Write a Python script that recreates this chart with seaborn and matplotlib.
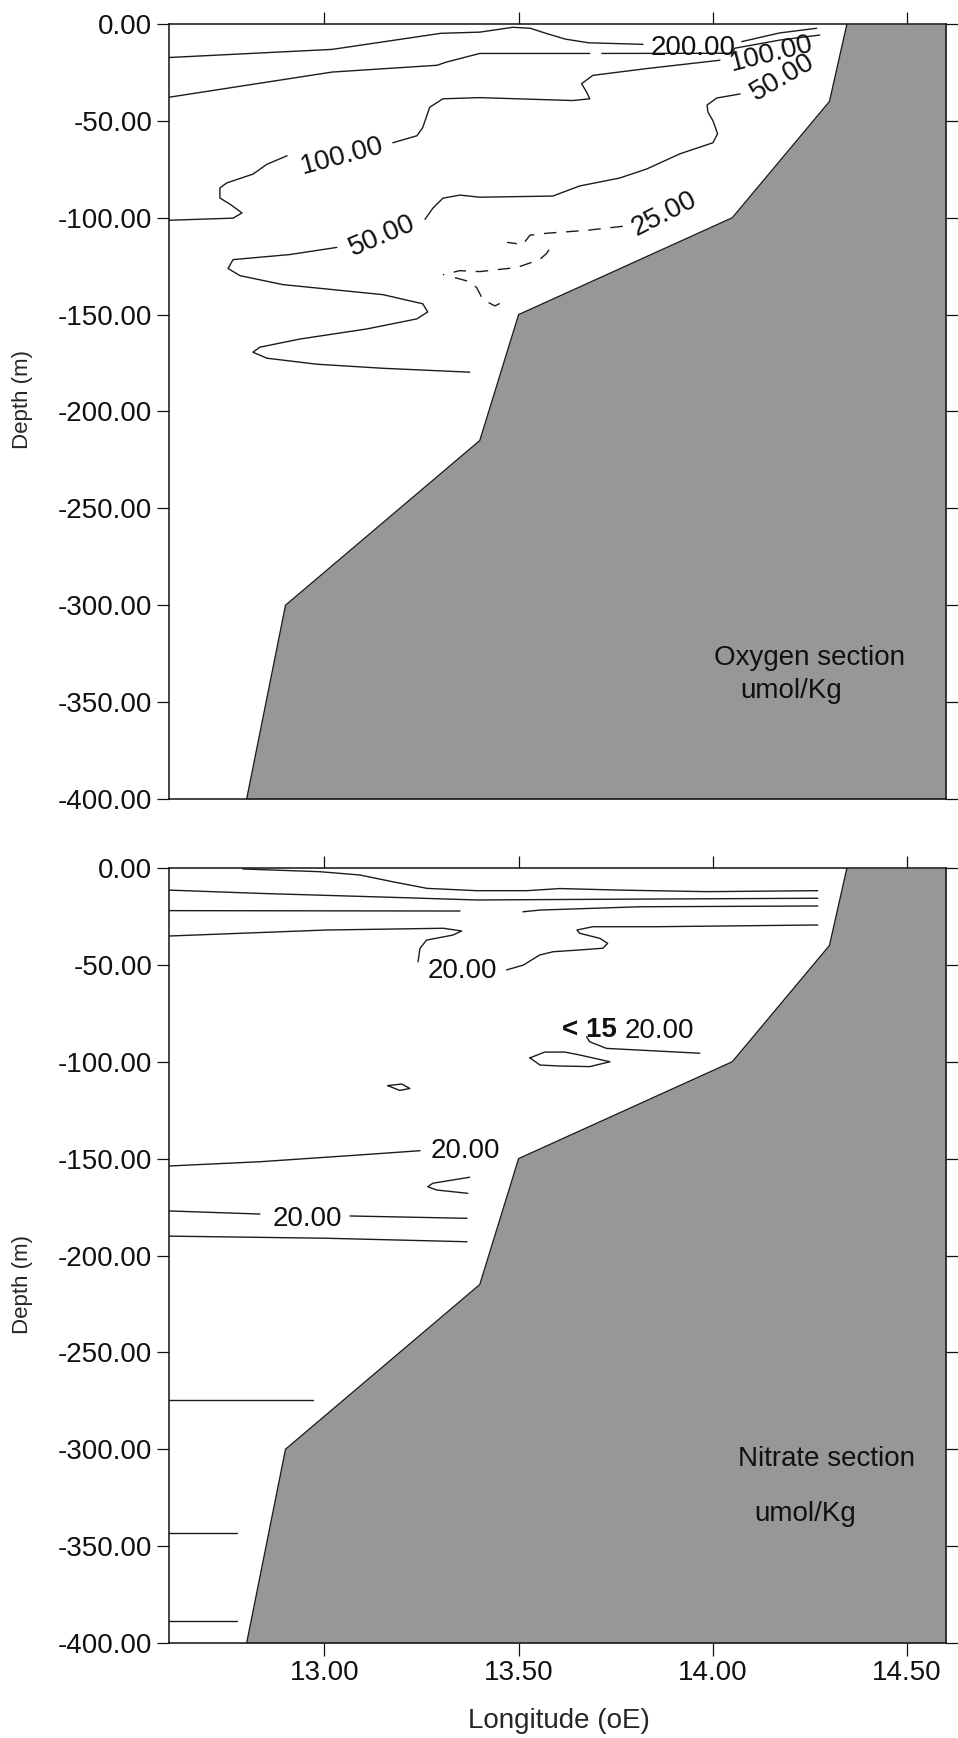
import matplotlib
matplotlib.use("Agg")
import matplotlib.pyplot as plt
import seaborn as sns
import pandas as pd

# ---- axis ranges and ticks ----
LON_MIN, LON_MAX = 12.6, 14.6
DEPTH_MIN, DEPTH_MAX = -400, 0
lon_ticks = [13.0, 13.5, 14.0, 14.5]
depth_ticks = [0, -50, -100, -150, -200, -250, -300, -350, -400]

# ---- shelf / slope bottom profile (same transect for both sections) ----
bathy_lon = [14.345, 14.30, 14.05, 13.50, 13.40, 12.90, 12.80]
bathy_depth = [0, -40, -100, -150, -215, -300, -400]

# ---- Oxygen section contours (umol/kg) ----
ox200_a_lon = [12.60, 13.02, 13.30, 13.40, 13.485, 13.53, 13.57, 13.62, 13.68, 13.82]
ox200_a_dep = [-17.3, -13.1, -4.8, -4.2, -1.7, -2.2, -4.8, -7.8, -9.7, -10.5]
ox200_b_lon = [14.074, 14.172, 14.267]
ox200_b_dep = [-9.1, -4.6, -2.2]

ox150_a_lon = [12.60, 13.02, 13.29, 13.315, 13.40, 13.683]
ox150_a_dep = [-37.8, -24.8, -21.3, -19.6, -15.2, -15.2]
ox150_b_lon = [13.714, 14.051, 14.056, 14.172, 14.275]
ox150_b_dep = [-15.2, -15.1, -12.5, -8.3, -5.7]

ox100_a_lon = [12.60, 12.765, 12.788, 12.757, 12.731, 12.731, 12.749, 12.816, 12.852, 12.904]
ox100_a_dep = [-101.3, -100.2, -97.5, -93.0, -89.8, -84.6, -82.0, -77.5, -72.4, -68.0]
ox100_b_lon = [13.176, 13.238, 13.253, 13.271, 13.305, 13.40, 13.639, 13.683, 13.675,
               13.662, 13.691, 13.83, 14.018]
ox100_b_dep = [-61.3, -57.7, -53.5, -43.0, -38.6, -38.0, -39.5, -38.6, -35.2,
               -30.8, -26.5, -23.0, -18.7]

ox50_a_lon = [14.07, 14.01, 13.985, 13.987, 14.0, 14.012, 14.0, 13.915, 13.83, 13.76,
              13.657, 13.588, 13.40, 13.349, 13.305, 13.279, 13.259]
ox50_a_dep = [-36.1, -38.2, -41.8, -45.4, -49.9, -56.6, -61.3, -67.0, -74.8, -79.5,
              -83.6, -88.8, -89.4, -88.3, -89.9, -95.1, -100.8]
ox50_b_lon = [13.032, 12.911, 12.765, 12.752, 12.783, 12.893, 13.151, 13.253, 13.266,
              13.238, 13.109, 12.937, 12.834, 12.816, 12.852, 12.981, 13.151, 13.374]
ox50_b_dep = [-115.3, -119.0, -121.6, -126.2, -129.9, -134.5, -139.7, -144.4, -148.6,
              -152.2, -157.4, -162.6, -166.8, -169.4, -172.5, -175.6, -177.7, -179.7]

ox25_a_lon = [13.768, 13.675, 13.572, 13.529, 13.511, 13.47]
ox25_a_dep = [-104.4, -106.5, -108.0, -109.0, -113.8, -112.7]
ox25_b_lon = [13.578, 13.572, 13.554, 13.495, 13.444, 13.40, 13.349, 13.305]
ox25_b_dep = [-116.5, -118.4, -121.6, -125.7, -126.8, -127.8, -127.3, -129.4]
ox25_c_lon = [13.336, 13.374, 13.392, 13.408, 13.439, 13.47]
ox25_c_dep = [-130.9, -133.0, -136.1, -142.3, -145.5, -142.3]

# contour labels: (text, lon, depth, rotation)
ox_label_text = ["200.00", "100.00", "50.00", "100.00", "50.00", "25.00"]
ox_label_lon = [13.948, 14.149, 14.175, 13.045, 13.145, 13.871]
ox_label_dep = [-10.6, -14.0, -26.5, -66.5, -108.0, -96.6]
ox_label_rot = [0, 14, 30, 15, 23, 27]

# ---- Nitrate section contours (umol/kg) ----
no3_a_lon = [12.79, 12.988, 13.091, 13.176, 13.264, 13.392, 13.521, 13.606, 13.76, 13.984, 14.27]
no3_a_dep = [-0.5, -1.9, -3.6, -7.1, -10.5, -11.7, -11.7, -10.6, -11.4, -12.2, -11.7]

no3_b_lon = [12.60, 12.834, 13.169, 13.392, 13.657, 14.27]
no3_b_dep = [-11.4, -13.1, -15.1, -16.5, -16.2, -15.6]

no3_c1_lon = [12.60, 13.349]
no3_c1_dep = [-22.0, -22.2]
no3_c2_lon = [13.511, 13.555, 13.812, 14.27]
no3_c2_dep = [-22.6, -21.7, -20.0, -19.6]

no3_d1_lon = [12.60, 13.006, 13.306, 13.353, 13.331, 13.263, 13.246, 13.241]
no3_d1_dep = [-35.1, -32.0, -31.1, -32.5, -34.6, -37.2, -41.5, -48.4]
no3_d2_lon = [13.469, 13.512, 13.554, 13.589, 13.657, 13.717, 13.729, 13.709, 13.657,
              13.65, 13.691, 13.855, 14.27]
no3_d2_dep = [-52.6, -50.1, -44.9, -43.2, -42.3, -41.4, -38.9, -36.3, -33.7,
              -32.0, -30.3, -30.3, -29.4]

no3_hook_lon = [13.675, 13.683, 13.726, 13.966]
no3_hook_dep = [-87.1, -89.7, -93.1, -95.6]

no3_loop_lon = [13.529, 13.567, 13.619, 13.657, 13.735, 13.683, 13.606, 13.555, 13.529]
no3_loop_dep = [-98.0, -95.0, -95.0, -96.5, -100.0, -102.5, -102.2, -101.7, -98.0]

no3_eye_lon = [13.163, 13.199, 13.22, 13.194, 13.163]
no3_eye_dep = [-112.3, -111.5, -113.8, -114.8, -112.3]

no3_e_lon = [12.60, 12.834, 13.091, 13.246]
no3_e_dep = [-153.8, -151.6, -148.1, -145.9]

no3_v_lon = [13.374, 13.279, 13.266, 13.289, 13.369]
no3_v_dep = [-159.6, -162.7, -164.5, -166.2, -167.9]

no3_f1_lon = [12.60, 12.834]
no3_f1_dep = [-177.0, -178.6]
no3_f2_lon = [13.066, 13.367]
no3_f2_dep = [-179.6, -180.8]

no3_g_lon = [12.60, 13.006, 13.367]
no3_g_dep = [-190.0, -191.1, -192.9]

no3_h_lon = [12.60, 12.97]
no3_h_dep = [-274.7, -274.7]
no3_i_lon = [12.60, 12.775]
no3_i_dep = [-343.2, -343.2]
no3_j_lon = [12.60, 12.775]
no3_j_dep = [-388.8, -388.8]

no3_label_text = ["20.00", "20.00", "20.00", "20.00"]
no3_label_lon = [13.356, 13.863, 13.362, 12.955]
no3_label_dep = [-51.4, -82.8, -144.5, -179.6]

# ---- styling ----
sns.set_theme(style="ticks")
plt.rcParams["font.family"] = ["Liberation Sans", "DejaVu Sans"]

LINE = "#1c1c1c"
LAND = "#979797"
FS = 20

fig = plt.figure(figsize=(9.58, 17.38), dpi=100)
ax_ox = fig.add_axes([0.1764, 0.54028, 0.8111, 0.44591])
ax_no3 = fig.add_axes([0.1764, 0.05466, 0.8111, 0.44591])


def draw(ax, lon, dep, dashed=False):
    df = pd.DataFrame({"lon": lon, "depth": dep})
    kw = dict(linestyle=(0, (9, 7))) if dashed else {}
    sns.lineplot(data=df, x="lon", y="depth", sort=False, estimator=None,
                 ax=ax, color=LINE, linewidth=1.0, zorder=3, **kw)


def setup(ax, show_bottom):
    ax.fill_betweenx(bathy_depth, bathy_lon, LON_MAX, color=LAND, lw=0, zorder=1)
    draw(ax, bathy_lon, bathy_depth)
    ax.set_xlim(LON_MIN, LON_MAX)
    ax.set_ylim(DEPTH_MIN, DEPTH_MAX)
    ax.set_xticks(lon_ticks)
    ax.set_yticks(depth_ticks)
    ax.set_xticklabels([f"{v:.2f}" for v in lon_ticks])
    ax.set_yticklabels([f"{v:.2f}" for v in depth_ticks])
    ax.tick_params(axis="both", direction="out", length=9, width=0.9,
                   colors="#111111", labelsize=FS, pad=3)
    ax.tick_params(axis="x", top=True, bottom=show_bottom, labelbottom=show_bottom)
    ax.tick_params(axis="y", left=True, right=True, labelleft=True)
    for sp in ax.spines.values():
        sp.set_visible(True)
        sp.set_linewidth(1.1)
        sp.set_color("#111111")
        sp.set_zorder(5)
    ax.set_ylabel("Depth (m)", fontsize=16)
    ax.yaxis.label.set_va("center")
    ax.yaxis.label.set_ha("center")
    ax.set_xlabel("")


def label(ax, text, lon, dep, rot=0, weight="normal"):
    ax.text(lon, dep, text, fontsize=FS, rotation=rot, rotation_mode="anchor",
            ha="center", va="center_baseline", color="#111111", zorder=4,
            fontweight=weight)


# ---- Oxygen section ----
setup(ax_ox, show_bottom=False)
for lon, dep in [(ox200_a_lon, ox200_a_dep), (ox200_b_lon, ox200_b_dep),
                 (ox150_a_lon, ox150_a_dep), (ox150_b_lon, ox150_b_dep),
                 (ox100_a_lon, ox100_a_dep), (ox100_b_lon, ox100_b_dep),
                 (ox50_a_lon, ox50_a_dep), (ox50_b_lon, ox50_b_dep)]:
    draw(ax_ox, lon, dep)
for lon, dep in [(ox25_a_lon, ox25_a_dep), (ox25_b_lon, ox25_b_dep),
                 (ox25_c_lon, ox25_c_dep)]:
    draw(ax_ox, lon, dep, dashed=True)
for t, lo, de, r in zip(ox_label_text, ox_label_lon, ox_label_dep, ox_label_rot):
    label(ax_ox, t, lo, de, r)
ax_ox.text(14.249, -330.8, "Oxygen section", fontsize=FS, ha="center",
           va="baseline", color="#111111", zorder=4)
ax_ox.text(14.201, -347.9, "umol/Kg", fontsize=FS, ha="center",
           va="baseline", color="#111111", zorder=4)
ax_ox.yaxis.set_label_coords(-0.189, 0.516)

# ---- Nitrate section ----
setup(ax_no3, show_bottom=True)
for lon, dep in [(no3_a_lon, no3_a_dep), (no3_b_lon, no3_b_dep),
                 (no3_c1_lon, no3_c1_dep), (no3_c2_lon, no3_c2_dep),
                 (no3_d1_lon, no3_d1_dep), (no3_d2_lon, no3_d2_dep),
                 (no3_hook_lon, no3_hook_dep), (no3_loop_lon, no3_loop_dep),
                 (no3_eye_lon, no3_eye_dep), (no3_e_lon, no3_e_dep),
                 (no3_v_lon, no3_v_dep), (no3_f1_lon, no3_f1_dep),
                 (no3_f2_lon, no3_f2_dep), (no3_g_lon, no3_g_dep),
                 (no3_h_lon, no3_h_dep), (no3_i_lon, no3_i_dep),
                 (no3_j_lon, no3_j_dep)]:
    draw(ax_no3, lon, dep)
for t, lo, de in zip(no3_label_text, no3_label_lon, no3_label_dep):
    label(ax_no3, t, lo, de)
label(ax_no3, "< 15", 13.683, -82.0, weight="bold")
ax_no3.text(14.293, -308.6, "Nitrate section", fontsize=FS, ha="center",
            va="baseline", color="#111111", zorder=4)
ax_no3.text(14.237, -337.0, "umol/Kg", fontsize=FS, ha="center",
            va="baseline", color="#111111", zorder=4)
ax_no3.yaxis.set_label_coords(-0.189, 0.463)
ax_no3.set_xlabel("Longitude (oE)", fontsize=FS)
ax_no3.xaxis.label.set_va("center")
ax_no3.xaxis.set_label_coords(0.502, -0.1006)

fig.savefig("out.png", dpi=100, facecolor="white")
